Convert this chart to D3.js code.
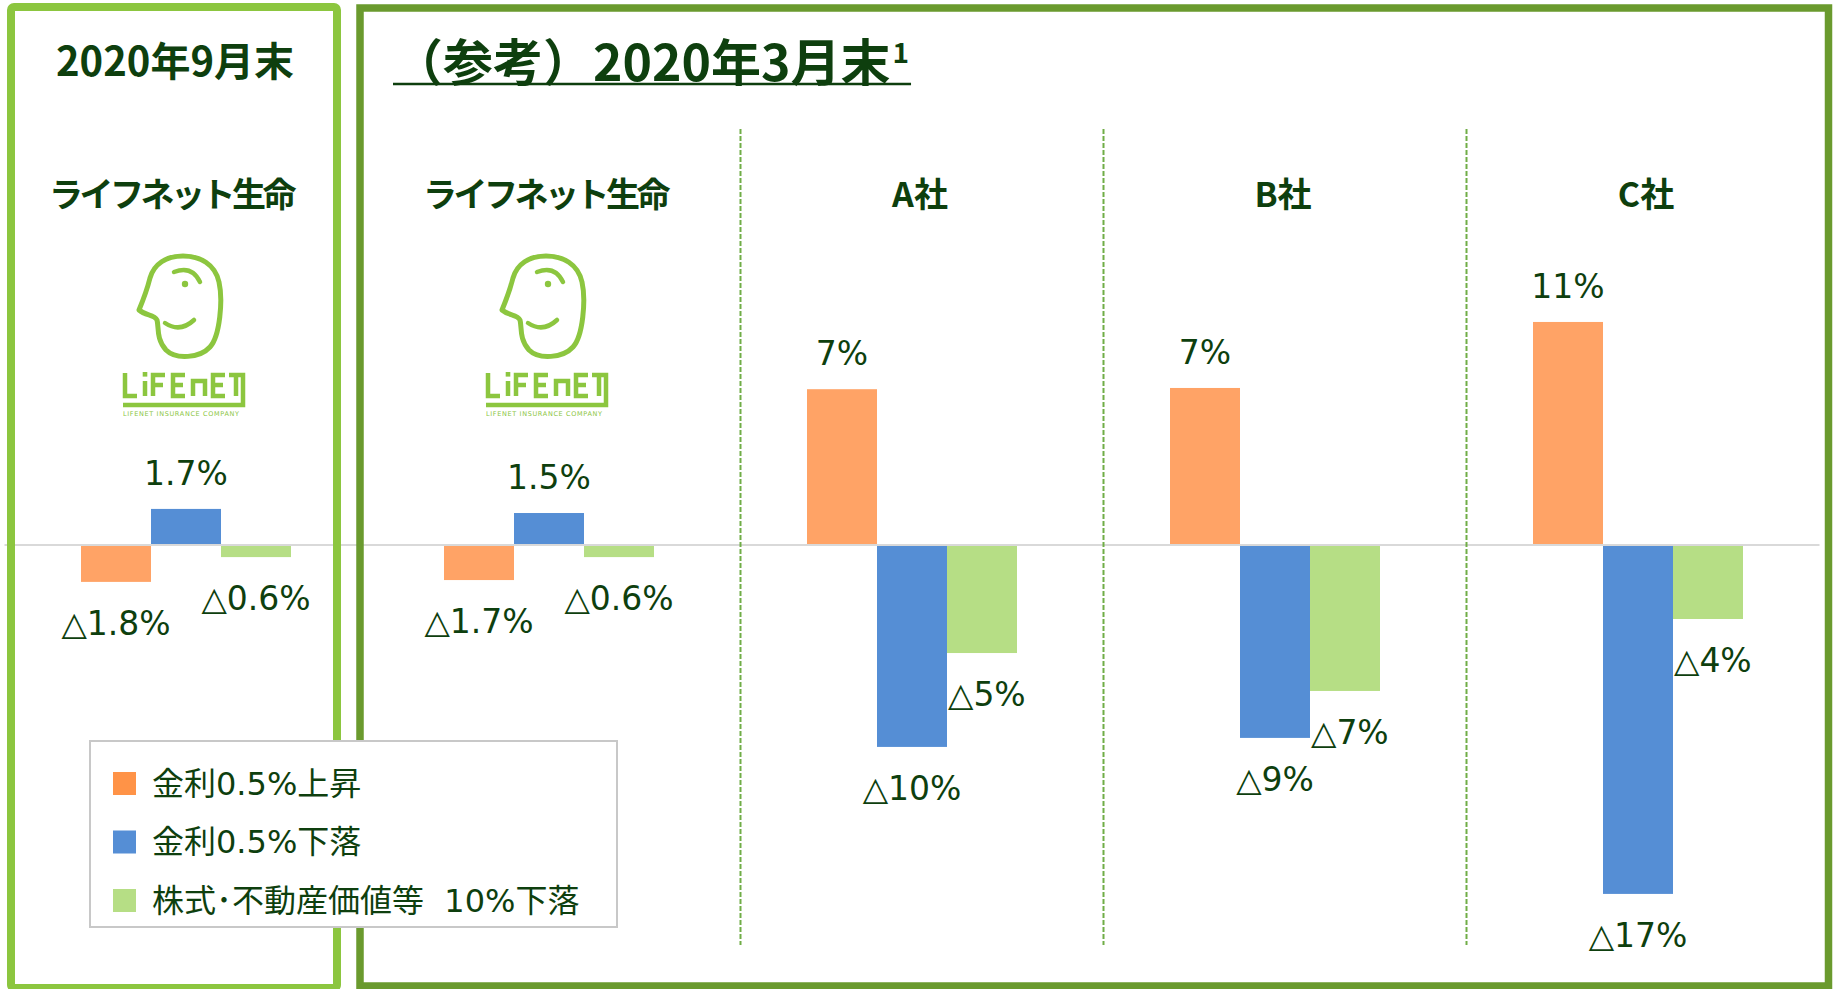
<!DOCTYPE html>
<html>
<head>
<meta charset="utf-8">
<script src="https://cdn.jsdelivr.net/npm/d3@7/dist/d3.min.js"></script>
<style>
  body { margin: 0; background: #fff; }
  svg { display: block; }
</style>
</head>
<body>
<div id="chart"></div>
<script>
// groups (one per company / date)
var groupKeys = ["ln_2020_09", "ln_2020_03", "A", "B", "C"];
var groupHeaders = ["ライフネット生命", "ライフネット生命", "A社", "B社", "C社"];

// series
var seriesNames = ["金利0.5%上昇", "金利0.5%下落", "株式･不動産価値等\u00a0\u00a010%下落"];

// values in %
var rateUp     = [-1.80, -1.71, 7.60, 7.66, 10.88];
var rateDown   = [ 1.76,  1.56, -9.85, -9.41, -17.02];
var equityDown = [-0.59, -0.59, -5.27, -7.12, -3.61];

// data labels as printed on the chart
var rateUpLabels     = ["△1.8%", "△1.7%", "7%", "7%", "11%"];
var rateDownLabels   = ["1.7%", "1.5%", "△10%", "△9%", "△17%"];
var equityDownLabels = ["△0.6%", "△0.6%", "△5%", "△7%", "△4%"];

var titleLeft = "2020年9月末";
var titleRight = "（参考）2020年3月末";
var titleRightNote = "1";

var barColors = ["#FFA366", "#558ED5", "#B6DE85"];
var legendColors = ["#FF9347", "#558ED5", "#B6DE85"];
var textColor = "#0e3f0e";
var lightGreen = "#8CC63F";

var width = 1837, height = 989;

var svg = d3.select("#chart")
    .append("svg")
    .attr("width", width)
    .attr("height", height);

svg.append("rect").attr("width", width).attr("height", height).attr("fill", "#fff");

// scales
var x = d3.scaleBand()
    .domain(groupKeys)
    .range([4.5, 1819.5]);

var xs = d3.scaleBand()
    .domain(seriesNames)
    .range([x.bandwidth() / 2 - 105, x.bandwidth() / 2 + 105]);

var y = d3.scaleLinear()
    .domain([-18, 12])
    .range([914, 299]);

// reshape: one entry per series
var values = [rateUp, rateDown, equityDown];
var labels = [rateUpLabels, rateDownLabels, equityDownLabels];
var dataReady = seriesNames.map(function(name, k) {
    return {
        name: name,
        color: barColors[k],
        values: groupKeys.map(function(g, i) {
            return {group: g, i: i, k: k, value: values[k][i], label: labels[k][i]};
        })
    };
});

// bars
svg.selectAll("g.series")
    .data(dataReady)
    .enter()
    .append("g")
    .attr("class", "series")
    .style("fill", function(d) { return d.color; })
    .selectAll("rect")
    .data(function(d) { return d.values; })
    .enter()
    .append("rect")
    .attr("x", function(d) { return x(d.group) + xs(seriesNames[d.k]); })
    .attr("width", xs.bandwidth())
    .attr("y", function(d) { return Math.min(y(d.value), y(0)); })
    .attr("height", function(d) { return Math.abs(y(d.value) - y(0)); });

// zero line
svg.append("line")
    .attr("x1", x.range()[0])
    .attr("x2", x.range()[1])
    .attr("y1", y(0))
    .attr("y2", y(0))
    .attr("stroke", "#d9d9d9")
    .attr("stroke-width", 2);

// dashed separators between companies
svg.selectAll("line.sep")
    .data(groupKeys.slice(2))
    .enter()
    .append("line")
    .attr("class", "sep")
    .attr("x1", function(d) { return x(d) + 10; })
    .attr("x2", function(d) { return x(d) + 10; })
    .attr("y1", 129)
    .attr("y2", 945)
    .attr("stroke", "#70AD47")
    .attr("stroke-width", 2)
    .attr("stroke-dasharray", "5,2");

// panel borders
svg.append("rect")
    .attr("x", 11).attr("y", 7)
    .attr("width", 326).attr("height", 981)
    .attr("rx", 3)
    .attr("fill", "none")
    .attr("stroke", lightGreen)
    .attr("stroke-width", 8);

svg.append("rect")
    .attr("x", 360).attr("y", 8)
    .attr("width", 1468.5).attr("height", 978)
    .attr("fill", "none")
    .attr("stroke", "#6A9A2E")
    .attr("stroke-width", 7.5);

// data labels
function shifted(d) {
    // green label moves right when the blue bar next to it reaches deeper
    return d.value < 0 && d.k > 0 && values[d.k - 1][d.i] < d.value;
}
dataReady.forEach(function(s) {
    svg.selectAll(null)
        .data(s.values)
        .enter()
        .append("text")
        .attr("x", function(d) {
            var left = x(d.group) + xs(seriesNames[d.k]);
            return shifted(d) ? left + 1 : left + xs.bandwidth() / 2;
        })
        .attr("y", function(d) { return d.value >= 0 ? y(d.value) - 24 : y(d.value) + 53; })
        .attr("text-anchor", function(d) { return shifted(d) ? "start" : "middle"; })
        .style("font-family", "'DejaVu Sans', 'Noto Sans CJK JP', sans-serif")
        .style("font-size", "33px")
        .style("fill", textColor)
        .text(function(d) { return d.label; });
});

// titles
svg.append("text")
    .attr("x", 175)
    .attr("y", 59)
    .attr("text-anchor", "middle")
    .attr("dominant-baseline", "central")
    .style("font-family", "'Noto Sans CJK JP', sans-serif")
    .style("font-weight", 700)
    .style("font-size", "40px")
    .style("fill", textColor)
    .text(titleLeft);

var rt = svg.append("text")
    .attr("x", 393)
    .attr("y", 59)
    .attr("dominant-baseline", "central")
    .style("font-family", "'Noto Sans CJK JP', sans-serif")
    .style("font-weight", 700)
    .style("font-size", "50px")
    .style("fill", textColor)
    .text(titleRight);
var rtEnd = 393 + rt.node().getComputedTextLength();
var note = svg.append("text")
    .attr("x", rtEnd + 2)
    .attr("y", 63)
    .style("font-family", "'Noto Sans CJK JP', sans-serif")
    .style("font-weight", 700)
    .style("font-size", "28px")
    .style("fill", textColor)
    .text(titleRightNote);
var noteEnd = rtEnd + 2 + note.node().getComputedTextLength();
svg.append("line")
    .attr("x1", 393).attr("x2", noteEnd + 2)
    .attr("y1", 84).attr("y2", 84)
    .attr("stroke", textColor)
    .attr("stroke-width", 2.5);

// group headers
var headerShift = [-15, -4, 8, 8, 8];
svg.selectAll("text.header")
    .data(groupKeys)
    .enter()
    .append("text")
    .attr("class", "header")
    .attr("x", function(d, i) { return x(d) + x.bandwidth() / 2 + headerShift[i]; })
    .attr("y", 192)
    .attr("text-anchor", "middle")
    .attr("dominant-baseline", "central")
    .style("font-family", "'Noto Sans CJK JP', sans-serif")
    .style("font-weight", 700)
    .style("font-size", "34px")
    .style("letter-spacing", function(d, i) { return i < 2 ? "-3.5px" : "0px"; })
    .style("fill", textColor)
    .text(function(d, i) { return groupHeaders[i]; });

// LIFENET logo (drawn above both LifeNet groups)
function drawLogo(cx) {
    var g = svg.append("g")
        .attr("transform", "translate(" + cx + ",0)")
        .attr("fill", "none")
        .attr("stroke", lightGreen)
        .attr("stroke-linecap", "round")
        .attr("stroke-linejoin", "round");
    // head
    g.append("path")
        .attr("stroke-width", 5)
        .attr("d", "M-47,310 C-40,316 -32,314 -29,320 C-27,327 -30,339 -20,350 " +
                   "C-10,360 14,358 24,347 C34,336 37,300 33,282 C29,264 14,256 -3,256 " +
                   "C-20,256 -32,264 -36,278 C-39,290 -42,298 -47,310 Z");
    g.append("path").attr("stroke-width", 4.5).attr("d", "M-12,272 Q6,265 14,282");
    g.append("path").attr("stroke-width", 4.5).attr("d", "M-21,323 Q-6,333 8,320");
    g.append("circle").attr("cx", -1).attr("cy", 284).attr("r", 3.2)
        .attr("fill", lightGreen).attr("stroke", "none");
    // letters L i F E n E T + frame
    g.append("path")
        .attr("stroke-width", 4.5)
        .attr("stroke-linecap", "butt")
        .attr("stroke-linejoin", "miter")
        .attr("d",
            "M-61,373 V396 H-49 " +
            "M-41,381 V396 " +
            "M-33,396 V375 H-21 M-33,385 H-23 " +
            "M-1,375 H-13 V396 H-1 M-13,385 H-3 " +
            "M7,396 V381 H19 V396 " +
            "M39,375 H27 V396 H39 M27,385 H37 " +
            "M43,375 H57 V405 H-63 M50,375 V396");
    g.append("rect").attr("x", -43.3).attr("y", 372).attr("width", 4.6).attr("height", 4.6)
        .attr("fill", lightGreen).attr("stroke", "none");
    g.append("text")
        .attr("x", -63).attr("y", 416)
        .attr("textLength", 116)
        .attr("stroke", "none")
        .attr("fill", lightGreen)
        .style("font-family", "'DejaVu Sans', sans-serif")
        .style("font-size", "6.5px")
        .text("LIFENET INSURANCE COMPANY");
}
drawLogo(x(groupKeys[0]) + x.bandwidth() / 2);
drawLogo(x(groupKeys[1]) + x.bandwidth() / 2);

// legend
var legend = svg.append("g");
legend.append("rect")
    .attr("x", 90).attr("y", 741)
    .attr("width", 527).attr("height", 186)
    .attr("fill", "#fff")
    .attr("stroke", "#c8c8c8")
    .attr("stroke-width", 2);

var items = legend.selectAll("g.item")
    .data(seriesNames)
    .enter()
    .append("g")
    .attr("class", "item")
    .attr("transform", function(d, i) { return "translate(113," + (772 + i * 58.5) + ")"; });
items.append("rect")
    .attr("width", 23).attr("height", 23)
    .style("fill", function(d, i) { return legendColors[i]; });
items.append("text")
    .attr("x", 39)
    .attr("y", 11.5)
    .attr("dominant-baseline", "central")
    .style("font-family", "'DejaVu Sans', 'Noto Sans CJK JP', sans-serif")
    .style("font-size", "32px")
    .style("fill", textColor)
    .text(function(d) { return d; });
</script>
</body>
</html>
